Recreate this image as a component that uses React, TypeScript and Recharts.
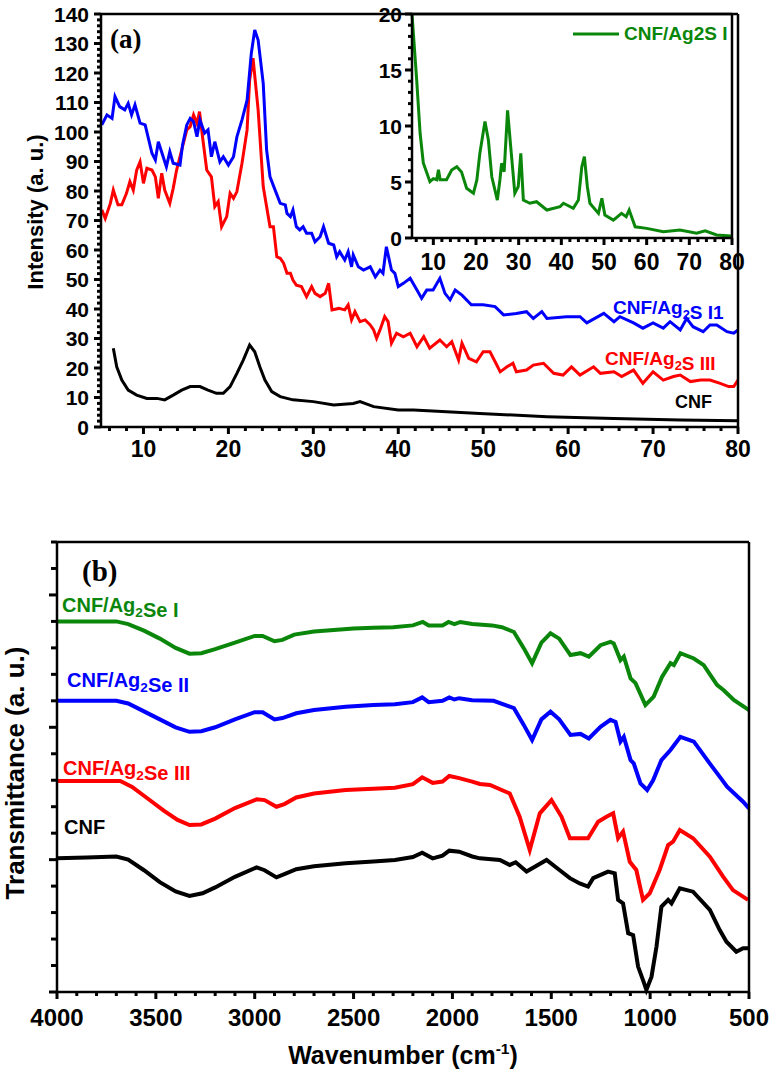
import React from "react";
import { LineChart, Line, XAxis, YAxis, Legend } from "recharts";

// ---------- (a) XRD, 2θ vs intensity ----------
const xrdCnf: [number, number][] = [
  [6.45, 26.7], [6.85, 20.4], [7.45, 15.9], [8.2, 12.5], [9.2, 10.8], [10.4, 9.7], [11.6, 9.7], [12.5, 9.2],
  [13.5, 10.8], [14.5, 12.5], [15.5, 13.7], [16.65, 13.7], [17.6, 12.5], [18.6, 11.4], [19.4, 11.4], [20.2, 13.7],
  [21.0, 18.2], [21.75, 22.7], [22.5, 27.8], [23.1, 25.5], [23.7, 20.4], [24.3, 15.9], [25.1, 12], [26.1, 10.3],
  [27.6, 9.2], [30.0, 8.6], [32.4, 7.5], [34.7, 8.0], [35.5, 8.6], [37.1, 6.9], [40.0, 5.8], [41.8, 5.8],
  [49.6, 4.6], [57.5, 3.5], [65.4, 2.9], [73.2, 2.4], [80, 2.1],
];

const xrdAg2sII: [number, number][] = [
  [5.1, 102.4], [5.7, 105.8], [6.3, 104.6], [6.65, 112], [7.2, 108.6], [7.8, 107.5], [8.2, 109.7], [8.6, 105.8],
  [9.0, 109.2], [9.6, 103], [10.2, 102.4], [11.0, 92.8], [11.4, 90.5], [11.75, 96.7], [12.7, 88.2], [13.1, 93.3],
  [13.5, 89.4], [14.3, 88.8], [14.6, 95.6], [15.1, 102.4], [15.5, 104.6], [15.9, 103.5], [16.3, 98.4], [16.65, 104.1],
  [17.2, 99.6], [17.6, 100.7], [18.0, 91.6], [18.4, 96.7], [19.0, 89.9], [19.4, 91.6], [20.0, 88.8], [20.6, 91.6],
  [21.0, 98.4], [21.6, 104.1], [22.2, 110.8], [22.7, 126.7], [23.1, 134.6], [23.5, 131.2], [24.1, 116.5], [24.5, 93.9],
  [24.9, 84.8], [25.5, 80.3], [26.1, 75.8], [26.7, 75.3], [26.9, 72.4], [27.3, 71.3], [27.6, 73.6], [28.0, 67.9],
  [28.4, 66.8], [28.8, 67.9], [29.2, 65.7], [29.8, 65.7], [30.2, 62.8], [30.8, 64.5], [31.2, 67.9], [31.8, 62.3],
  [32.4, 61.7], [32.75, 57.7], [33.1, 59.4], [33.7, 56.6], [34.1, 59.4], [34.5, 54.3], [34.7, 58.3], [35.3, 54.3],
  [35.9, 53.2], [36.7, 54.3], [37.3, 50.9], [37.85, 53.2], [38.2, 52.1], [38.6, 61.1], [39.2, 53.2], [39.6, 52.1],
  [40.0, 47.6], [40.6, 48.7], [41.4, 50.4], [42.2, 46.4], [42.75, 43.6], [43.35, 46.4], [44.1, 46.4], [44.9, 50.4],
  [45.5, 45.3], [46.1, 43.1], [46.7, 46.4], [47.5, 44.7], [48.6, 41.4], [50.0, 41.4], [51.4, 40.8], [52.4, 38],
  [53.9, 38.5], [55.1, 39.1], [55.9, 36.8], [56.9, 39.1], [57.5, 36.8], [59.8, 37.4], [61.4, 37.4], [62.2, 35.3],
  [64.2, 38.5], [65.4, 35.7], [66.1, 37.4], [67.7, 35.3], [68.8, 33.5], [70.0, 35.3], [71.2, 33.5], [72.0, 35.7],
  [73.2, 32.9], [73.95, 36.8], [74.7, 34], [75.9, 32.3], [76.7, 34.6], [77.5, 34.6], [78.7, 32.3], [79.5, 31.8],
  [80, 32.9],
];

const xrdAg2sIII: [number, number][] = [
  [5.1, 73.6], [5.5, 70.7], [6.1, 75.8], [6.45, 80.3], [7.0, 75.3], [7.45, 75.3], [8.0, 79.2], [8.4, 83.2],
  [8.8, 80.3], [9.2, 87.1], [9.6, 89.9], [10.0, 82.6], [10.4, 87.7], [11.0, 87.1], [11.4, 84.8], [11.75, 77.5],
  [12.15, 86], [12.5, 80.3], [13.1, 75.8], [13.5, 80.9], [13.9, 87.1], [14.5, 93.9], [15.1, 100.7], [15.5, 101.8],
  [15.9, 105.8], [16.3, 102.9], [16.6, 106.9], [17.0, 97.3], [17.45, 87.1], [18.0, 84.8], [18.4, 74.7], [18.8, 76.4],
  [19.2, 67.9], [19.8, 71.3], [20.2, 79.2], [20.6, 77.5], [21.0, 79.8], [21.6, 89.4], [22.2, 100.7], [22.5, 117.6],
  [22.9, 125], [23.5, 107.5], [24.1, 81.5], [24.5, 74.7], [24.9, 67.9], [25.3, 67.9], [25.7, 57.7], [26.1, 57.2],
  [26.5, 55.5], [26.9, 52.1], [27.3, 52.1], [27.6, 49.8], [28.0, 48.1], [28.6, 47.6], [29.2, 44.2], [29.8, 47.6],
  [30.2, 45.3], [30.8, 44.2], [31.4, 45.3], [31.8, 48.7], [32.2, 39.7], [33.0, 40.2], [33.7, 39.7], [34.1, 41.4],
  [34.5, 36.3], [34.9, 39.1], [35.5, 35.7], [36.1, 36.3], [36.7, 34.6], [37.1, 32.9], [37.45, 30.1], [37.85, 32.9],
  [38.4, 37.4], [38.8, 35.7], [39.2, 28.4], [39.8, 31.8], [40.6, 30.6], [41.4, 31.8], [42.2, 27.2], [43.0, 30.6],
  [43.7, 26.7], [44.9, 29.5], [45.7, 27.2], [46.3, 28.9], [47.1, 22.7], [47.5, 28.4], [48.3, 23.3], [49.2, 22.1],
  [50.0, 25.5], [50.8, 25.5], [51.6, 21], [52.0, 18.7], [52.8, 20.4], [53.5, 21.6], [53.9, 18.7], [55.1, 19.3],
  [55.9, 21], [57.1, 21.6], [58.3, 18.2], [59.4, 17.6], [60.4, 20.4], [61.4, 17.6], [63.0, 20.4], [63.8, 18.2],
  [65.4, 18.7], [66.3, 17.1], [67.7, 19.3], [68.8, 14.8], [70.0, 18.7], [71.2, 15.9], [72.4, 17.1], [73.2, 17.6],
  [74.4, 15.4], [75.6, 15.9], [76.7, 15.9], [77.9, 14.8], [78.9, 13.7], [79.5, 13.7], [80, 15.9],
];

// inset
const xrdAg2sI: [number, number][] = [
  [5.0, 20], [6.1, 14.1], [6.9, 9.35], [7.65, 6.7], [8.4, 5.9], [9.2, 5.03], [10.0, 5.3], [10.8, 5.2],
  [11.2, 6.1], [11.6, 5.2], [13.1, 5.2], [14.3, 6.07], [15.5, 6.37], [16.6, 5.9], [17.8, 4.44], [19.4, 3.99],
  [20.2, 5.18], [20.9, 7.56], [22.1, 10.4], [22.9, 8.75], [23.7, 5.47], [25.0, 3.39], [25.6, 5.18], [26.0, 6.67],
  [26.6, 5.92], [27.4, 11.4], [28.2, 7.86], [29.1, 3.99], [29.9, 4.58], [30.5, 7.56], [31.1, 3.39], [32.6, 3.1],
  [34.2, 3.24], [36.6, 2.5], [39.7, 2.8], [40.5, 3.1], [42.8, 2.65], [44.0, 3.39], [44.8, 6.37], [45.4, 7.26],
  [46.1, 4.58], [46.7, 3.1], [48.7, 2.2], [49.5, 3.54], [50.2, 2.05], [52.2, 1.6], [54.1, 2.2], [55.2, 1.9],
  [55.9, 2.5], [57.3, 1.0], [60.0, 0.86], [63.9, 0.56], [67.8, 0.71], [71.7, 0.42], [73.7, 0.65], [76.4, 0.27],
  [79.9, 0.18],
];

// ---------- (b) FTIR, wavenumber vs transmittance (offset a.u.) ----------
const ftirSeI: [number, number][] = [
  [4000, 14.0], [3850, 14.0], [3700, 14.0], [3640, 13.9], [3560, 13.65], [3480, 13.35], [3400, 13.0], [3330, 12.78],
  [3270, 12.8], [3200, 12.95], [3100, 13.2], [3000, 13.45], [2960, 13.45], [2900, 13.25], [2860, 13.3], [2800, 13.5],
  [2700, 13.62], [2600, 13.68], [2500, 13.73], [2400, 13.76], [2300, 13.78], [2200, 13.85], [2150, 13.98], [2120, 13.85],
  [2050, 13.85], [2020, 13.98], [1990, 13.9], [1960, 13.98], [1900, 13.9], [1800, 13.85], [1750, 13.78], [1689, 13.6],
  [1640, 13.0], [1597, 12.42], [1550, 13.2], [1504, 13.55], [1460, 13.35], [1403, 12.73], [1352, 12.8], [1310, 12.67],
  [1251, 13.1], [1201, 13.23], [1184, 13.17], [1150, 12.54], [1133, 12.67], [1099, 11.85], [1074, 11.67], [1024, 10.84],
  [982, 11.16], [940, 11.9], [897, 12.42], [880, 12.35], [847, 12.8], [779, 12.6], [729, 12.35], [662, 11.6],
  [628, 11.4], [577, 11.03], [500, 10.65],
];

const ftirSeII: [number, number][] = [
  [4000, 11.0], [3850, 11.0], [3700, 11.0], [3640, 10.9], [3560, 10.6], [3480, 10.3], [3400, 10.0], [3330, 9.83],
  [3270, 9.85], [3200, 10.0], [3100, 10.3], [3000, 10.57], [2960, 10.57], [2900, 10.3], [2860, 10.35], [2790, 10.53],
  [2700, 10.65], [2540, 10.78], [2400, 10.84], [2291, 10.87], [2200, 10.95], [2153, 11.13], [2120, 10.95], [2050, 11.0],
  [2016, 11.13], [1990, 11.05], [1966, 11.1], [1900, 11.02], [1792, 11.0], [1717, 10.8], [1689, 10.72], [1640, 10.1],
  [1597, 9.52], [1550, 10.3], [1504, 10.59], [1460, 10.3], [1403, 9.71], [1352, 9.75], [1310, 9.58], [1251, 10.02],
  [1201, 10.28], [1175, 10.2], [1150, 9.46], [1133, 9.64], [1099, 8.76], [1083, 8.64], [1049, 7.88], [1015, 7.63],
  [985, 8.0], [943, 8.76], [897, 9.14], [847, 9.64], [779, 9.46], [695, 8.6], [640, 8.05], [611, 7.76],
  [530, 7.19], [500, 6.94],
];

const ftirSeIII: [number, number][] = [
  [4000, 7.97], [3850, 7.97], [3680, 7.97], [3620, 7.75], [3540, 7.3], [3460, 6.85], [3390, 6.5], [3330, 6.31],
  [3270, 6.33], [3200, 6.55], [3100, 6.95], [2990, 7.28], [2950, 7.25], [2890, 7.0], [2850, 7.1], [2790, 7.35],
  [2700, 7.5], [2540, 7.63], [2400, 7.68], [2291, 7.72], [2200, 7.85], [2153, 8.11], [2100, 7.9], [2050, 7.95],
  [2016, 8.16], [1966, 8.08], [1900, 7.95], [1861, 7.86], [1810, 7.82], [1710, 7.5], [1660, 6.62], [1609, 5.36],
  [1558, 6.75], [1499, 7.25], [1448, 6.62], [1406, 5.81], [1356, 5.81], [1314, 5.81], [1263, 6.43], [1221, 6.62],
  [1187, 6.75], [1162, 5.81], [1137, 6.06], [1103, 4.92], [1070, 4.61], [1036, 3.48], [1002, 3.73], [952, 4.61],
  [909, 5.55], [884, 5.68], [850, 6.12], [783, 5.81], [698, 5.11], [631, 4.36], [581, 3.85], [505, 3.48],
];

const ftirCnf: [number, number][] = [
  [4000, 5.05], [3850, 5.08], [3700, 5.12], [3640, 5.0], [3560, 4.6], [3480, 4.15], [3400, 3.8], [3330, 3.63],
  [3264, 3.73], [3200, 3.95], [3100, 4.35], [2990, 4.71], [2950, 4.6], [2890, 4.33], [2850, 4.45], [2790, 4.64],
  [2700, 4.75], [2540, 4.86], [2400, 4.93], [2291, 4.99], [2200, 5.1], [2153, 5.26], [2100, 5.05], [2050, 5.15],
  [2016, 5.34], [1966, 5.3], [1900, 5.12], [1861, 5.05], [1760, 4.99], [1710, 4.8], [1680, 4.9], [1625, 4.55],
  [1524, 4.99], [1457, 4.6], [1406, 4.3], [1356, 4.1], [1314, 3.98], [1288, 4.3], [1213, 4.55], [1179, 4.48],
  [1162, 3.48], [1137, 3.35], [1111, 2.22], [1086, 2.15], [1061, 0.96], [1036, 0.45], [1019, 0.08], [993, 0.58],
  [968, 1.71], [943, 3.22], [909, 3.48], [892, 3.35], [850, 3.92], [783, 3.79], [698, 3.1], [648, 2.34],
  [614, 1.9], [564, 1.52], [530, 1.65], [505, 1.65],
];

const steps = (a: number, b: number, s: number) => {
  const out: number[] = [];
  for (let v = a; v <= b + 1e-9; v += s) out.push(Math.round(v * 100) / 100);
  return out;
};

const xrdXTicks = steps(6, 80, 2);
const xrdYTicks = steps(0, 140, 2);
const insetXTicks = steps(6, 80, 2);
const insetYTicks = steps(0, 20, 1);
const ftirXTicks = steps(500, 4000, 100);
const ftirYTicks = steps(0, 17, 1);

const BLUE = "#0000ff";
const RED = "#ff0000";
const BLACK = "#000000";
const GREEN = "#0a870a";
const FONT = '"Liberation Sans", Arial, Helvetica, sans-serif';
const SERIF = '"Liberation Serif", "Times New Roman", serif';

const pts = (arr: [number, number][]) => arr.map(([x, y]) => ({ x, y }));
const isMul = (v: number, m: number) => Math.abs(v / m - Math.round(v / m)) < 1e-6;

type Side = "left" | "right" | "top" | "bottom";
interface TickOpts {
  side: Side;
  out: boolean;
  every: number;
  majorLen: number;
  minorLen: number;
  label?: { size: number; gap: number };
}

// custom tick: major/minor mark at the axis line, label on majors only
const makeTick = (o: TickOpts) => (p: any) => {
  const x = Number(p.x);
  const y = Number(p.y);
  const v = Number(p.payload.value);
  const major = isMul(v, o.every);
  const len = major ? o.majorLen : o.minorLen;
  const horiz = o.side === "left" || o.side === "right";
  let dir = 1;
  if (o.side === "left") dir = o.out ? -1 : 1;
  if (o.side === "right") dir = o.out ? 1 : -1;
  if (o.side === "bottom") dir = o.out ? 1 : -1;
  if (o.side === "top") dir = o.out ? -1 : 1;
  const x2 = horiz ? x + dir * len : x;
  const y2 = horiz ? y : y + dir * len;
  let label = null;
  if (o.label && major) {
    const c = { fontFamily: FONT, fontWeight: 700, fontSize: o.label.size, fill: "#000" };
    label =
      o.side === "left" ? (
        <text x={x - o.label.gap} y={y + o.label.size * 0.36} textAnchor="end" {...c}>{v}</text>
      ) : (
        <text x={x} y={y + o.label.gap} textAnchor="middle" {...c}>{v}</text>
      );
  }
  return (
    <g>
      <line x1={x} y1={y} x2={x2} y2={y2} stroke="#000" strokeWidth={3} />
      {label}
    </g>
  );
};

const axisLine = { stroke: "#000", strokeWidth: 2.5 };
const common = { tickSize: 0, tickMargin: 0, tickLine: false, axisLine, interval: 0 as const };

const InsetLegend = () => (
  <div style={{ display: "flex", alignItems: "center", fontFamily: FONT, fontWeight: 700, fontSize: 19, color: GREEN, lineHeight: "20px" }}>
    <svg width={46} height={6}>
      <rect x={0} y={1.5} width={46} height={3} fill={GREEN} />
    </svg>
    <span style={{ marginLeft: 5 }}>CNF/Ag2S I</span>
  </div>
);

const Sub = ({ children }: { children: string }) => (
  <>
    <tspan fontSize="0.68em" dy={5}>{children}</tspan>
    <tspan dy={-5}>{""}</tspan>
  </>
);

export default function App() {
  return (
    <div style={{ position: "absolute", left: 0, top: 0, width: 774, height: 1080, background: "#fff" }}>
      {/* (a) main XRD */}
      <div style={{ position: "absolute", left: 0, top: 0 }}>
        <LineChart width={774} height={470} margin={{ top: 13, right: 35, bottom: 13, left: 41 }}>
          <XAxis dataKey="x" type="number" domain={[5, 80]} ticks={xrdXTicks} height={30} {...common}
            tick={makeTick({ side: "bottom", out: true, every: 10, majorLen: 7, minorLen: 4, label: { size: 23, gap: 30 } })} />
          <XAxis xAxisId="top" orientation="top" dataKey="x" type="number" domain={[5, 80]} ticks={xrdXTicks} height={1} {...common}
            tick={makeTick({ side: "top", out: false, every: 10, majorLen: 7, minorLen: 4 })} />
          <YAxis type="number" domain={[0, 140]} ticks={xrdYTicks} width={60} {...common}
            tick={makeTick({ side: "left", out: true, every: 10, majorLen: 7, minorLen: 4, label: { size: 21, gap: 12 } })} />
          <YAxis yAxisId="right" orientation="right" type="number" domain={[0, 140]} ticks={xrdYTicks} width={1} {...common}
            tick={makeTick({ side: "right", out: false, every: 10, majorLen: 7, minorLen: 4 })} />
          <Line data={pts(xrdCnf)} dataKey="y" stroke={BLACK} strokeWidth={3} dot={false} isAnimationActive={false} />
          <Line data={pts(xrdAg2sIII)} dataKey="y" stroke={RED} strokeWidth={3} dot={false} isAnimationActive={false} />
          <Line data={pts(xrdAg2sII)} dataKey="y" stroke={BLUE} strokeWidth={3} dot={false} isAnimationActive={false} />
        </LineChart>
      </div>

      {/* (a) inset */}
      <div style={{ position: "absolute", left: 340, top: 0 }}>
        <LineChart width={420} height={280} margin={{ top: 13, right: 27, bottom: 12, left: 22 }}>
          <XAxis dataKey="x" type="number" domain={[5, 80]} ticks={insetXTicks} height={30} {...common}
            tick={makeTick({ side: "bottom", out: true, every: 10, majorLen: 7, minorLen: 4, label: { size: 23, gap: 32 } })} />
          <XAxis xAxisId="top" orientation="top" dataKey="x" type="number" domain={[5, 80]} ticks={insetXTicks} height={1} {...common}
            tick={makeTick({ side: "top", out: false, every: 10, majorLen: 7, minorLen: 4 })} />
          <YAxis type="number" domain={[0, 20]} ticks={insetYTicks} width={50} {...common}
            tick={makeTick({ side: "left", out: true, every: 5, majorLen: 7, minorLen: 4, label: { size: 21, gap: 10 } })} />
          <YAxis yAxisId="right" orientation="right" type="number" domain={[0, 20]} ticks={insetYTicks} width={1} {...common}
            tick={makeTick({ side: "right", out: false, every: 5, majorLen: 7, minorLen: 4 })} />
          <Legend
            layout="horizontal" verticalAlign="middle" align="center"
            wrapperStyle={{ position: "absolute", top: 24, left: 233, width: "auto" }}
            content={() => <InsetLegend />}
          />
          <Line data={pts(xrdAg2sI)} dataKey="y" name="CNF/Ag2S I" stroke={GREEN} strokeWidth={3} dot={false} isAnimationActive={false} />
        </LineChart>
      </div>

      {/* (b) FTIR */}
      <div style={{ position: "absolute", left: 0, top: 520 }}>
        <LineChart width={774} height={560} margin={{ top: 21, right: 24, bottom: 48, left: 7 }}>
          <XAxis dataKey="x" type="number" domain={[500, 4000]} reversed ticks={ftirXTicks} height={40} {...common}
            tick={makeTick({ side: "bottom", out: true, every: 500, majorLen: 7, minorLen: 4, label: { size: 24, gap: 34 } })} />
          <XAxis xAxisId="top" orientation="top" dataKey="x" type="number" domain={[500, 4000]} reversed ticks={ftirXTicks} height={1} {...common}
            tick={makeTick({ side: "top", out: false, every: 500, majorLen: 7, minorLen: 4 })} />
          <YAxis type="number" domain={[0, 17]} ticks={ftirYTicks} width={50} {...common}
            tick={makeTick({ side: "left", out: true, every: 5, majorLen: 8, minorLen: 6 })} />
          <YAxis yAxisId="right" orientation="right" type="number" domain={[0, 17]} ticks={ftirYTicks} width={1} {...common}
            tick={makeTick({ side: "right", out: false, every: 5, majorLen: 8, minorLen: 6 })} />
          <Line data={pts(ftirCnf)} dataKey="y" stroke={BLACK} strokeWidth={4} dot={false} isAnimationActive={false} />
          <Line data={pts(ftirSeIII)} dataKey="y" stroke={RED} strokeWidth={4} dot={false} isAnimationActive={false} />
          <Line data={pts(ftirSeII)} dataKey="y" stroke={BLUE} strokeWidth={4} dot={false} isAnimationActive={false} />
          <Line data={pts(ftirSeI)} dataKey="y" stroke={GREEN} strokeWidth={4} dot={false} isAnimationActive={false} />
        </LineChart>
      </div>

      {/* annotations */}
      <svg width={774} height={1080} style={{ position: "absolute", left: 0, top: 0, pointerEvents: "none" }}>
        <text x={110} y={48} fontFamily={SERIF} fontWeight={700} fontSize={27}>(a)</text>
        <text transform="translate(43,212) rotate(-90)" textAnchor="middle" fontFamily={FONT} fontWeight={700} fontSize={22}>
          Intensity (a. u.)
        </text>
        <text x={613} y={314} fontFamily={FONT} fontWeight={700} fontSize={19} fill={BLUE}>
          CNF/Ag<Sub>2</Sub>S I1
        </text>
        <text x={605} y={365} fontFamily={FONT} fontWeight={700} fontSize={19} fill={RED}>
          CNF/Ag<Sub>2</Sub>S III
        </text>
        <text x={675} y={408} fontFamily={FONT} fontWeight={700} fontSize={18} fill={BLACK}>CNF</text>

        <text x={82} y={581} fontFamily={SERIF} fontWeight={700} fontSize={29}>(b)</text>
        <text x={62} y={612} fontFamily={FONT} fontWeight={700} fontSize={20} fill={GREEN}>
          CNF/Ag<Sub>2</Sub>Se I
        </text>
        <text x={67} y={687} fontFamily={FONT} fontWeight={700} fontSize={20} fill={BLUE}>
          CNF/Ag<Sub>2</Sub>Se II
        </text>
        <text x={63} y={775} fontFamily={FONT} fontWeight={700} fontSize={20} fill={RED}>
          CNF/Ag<Sub>2</Sub>Se III
        </text>
        <text x={64} y={834} fontFamily={FONT} fontWeight={700} fontSize={20} fill={BLACK}>CNF</text>
        <text transform="translate(24,773) rotate(-90)" textAnchor="middle" fontFamily={FONT} fontWeight={700} fontSize={26}>
          Transmittance (a. u.)
        </text>
        <text x={403} y={1064} textAnchor="middle" fontFamily={FONT} fontWeight={700} fontSize={25}>
          Wavenumber (cm<tspan fontSize="0.62em" dy={-10}>-1</tspan><tspan dy={10}>)</tspan>
        </text>
      </svg>
    </div>
  );
}
